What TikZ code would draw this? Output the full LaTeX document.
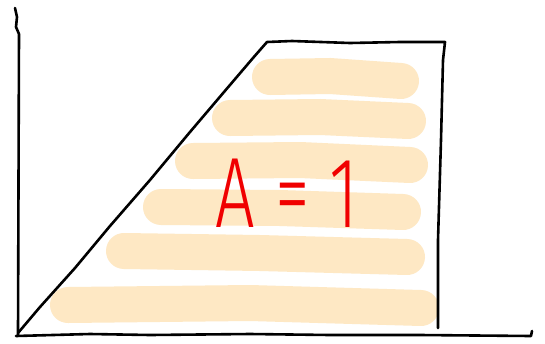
\documentclass[tikz,border=0pt]{standalone}
\usepackage{fontspec}
\newfontfamily\handfont{Fira Sans Light}
\definecolor{peach}{RGB}{254,232,196}
\definecolor{inkred}{RGB}{240,0,0}
\begin{document}
\begin{tikzpicture}[x=1pt,y=-1pt,
  bar/.style={line width=36pt, line cap=round, draw=peach},
  ink/.style={line width=2.6pt, line cap=round, line join=round, draw=black},
  eqlabel/.style={text=inkred, font=\handfont\fontsize{100}{100}\selectfont, inner sep=0pt, xscale=0.7}]
\useasboundingbox (0,0) rectangle (545,343);
\fill[white] (0,0) rectangle (545,343);
% peach strokes
\draw[bar] (270,77) -- (330,76) -- (401,81);
\draw[bar] (230,118) -- (320,117) -- (408,121);
\draw[bar] (193,161) -- (300,160) -- (410,165);
\draw[bar] (161,207) -- (280,208) -- (403,212);
\draw[bar] (124,251) -- (260,253) -- (407,257);
\draw[bar] (68,305) -- (250,303) -- (421,308);
% axes
\draw[ink] (15,8) -- (17,17) -- (16,27) -- (19,34) -- (18,335);
\draw[ink] (16,336) -- (90,334) -- (150,335) -- (250,334) -- (330,335) -- (420,335) -- (531,336) -- (532,331);
% trapezoid
\draw[ink] (18,333) -- (40,307) -- (75,268) -- (110,226) -- (150,180) -- (190,132) -- (224,92) -- (253,58) -- (267,42) -- (292,41) -- (350,43) -- (400,42) -- (445,42) -- (443,60) -- (441,140) -- (438,240) -- (438,328);
% label
\node[eqlabel] (eq) at (287,193) {A = 1};
\end{tikzpicture}
\end{document}
